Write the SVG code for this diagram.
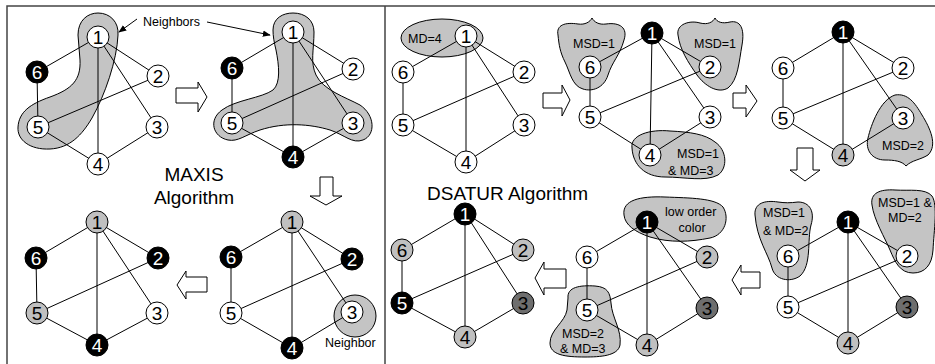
<svg xmlns="http://www.w3.org/2000/svg" width="935" height="364" viewBox="0 0 935 364">
  <style>
    .frame { fill: none; stroke: #444; stroke-width: 1.5; }
    .region { fill: #c4c4c4; stroke: #000; stroke-width: 1; }
    .edge { stroke: #000; stroke-width: 1; }
    .step { fill: #fff; stroke: #000; stroke-width: 1; stroke-linejoin: miter; }
    .node circle { stroke: #000; stroke-width: 1; }
    .node text { font-family: "Liberation Sans", Arial, sans-serif; font-size: 19px; text-anchor: middle; }
    .w circle { fill: #fff; }
    .g circle { fill: #c0c0c0; }
    .d circle { fill: #6e6e6e; }
    .b circle { fill: #000; }
    .b text { fill: #fff; }
    .note { font-family: "Liberation Sans", Arial, sans-serif; font-size: 12.5px; fill: #000; }
    .title { font-family: "Liberation Sans", Arial, sans-serif; font-size: 19px; fill: #000; }
    .ptr { stroke: #000; stroke-width: 1; fill: none; }
  </style>
  <defs>
    <marker id="head" viewBox="0 0 10 10" refX="9" refY="5" markerWidth="8" markerHeight="8" orient="auto" markerUnits="userSpaceOnUse">
      <path d="M0 1 L10 5 L0 9 Z" fill="#000"/>
    </marker>
  </defs>

  <!-- panel frame -->
  <path class="frame" d="M7 364 V6 H935 M385 6 V364"/>

  <!-- highlighted regions -->
  <g id="regions">
    <path class="region" d="M78 35 C78 20 88 13 98 13 C110 13 119 22 118 35 C117 60 105 95 92 118 C82 135 70 148 50 149 C30 150 17 140 18 127 C19 112 30 104 50 97 C72 89 81 80 80 60 Z"/>
    <path class="region" d="M273 30 C273 18 283 13 293 13 C305 13 314 20 314 32 C314 50 310 62 316 75 C323 90 345 97 360 105 C375 115 376 135 363 140 C352 144 345 135 330 130 C310 124 285 122 260 130 C245 135 238 142 228 140 C213 137 208 120 222 110 C235 100 262 98 273 90 C281 83 279 65 276 50 C274 42 273 36 273 30 Z"/>
    <circle class="region" cx="355" cy="316" r="21"/>
    <ellipse class="region" cx="442" cy="38" rx="41" ry="19"/>
    <path class="region" d="M558 35 C556 25 565 22 578 24 C585 25 590 22 592 18 C594 22 599 25 606 24 C620 22 628 28 624 40 C620 55 612 62 608 75 C604 88 592 92 583 89 C572 86 570 72 565 62 C560 52 559 45 558 35 Z"/>
    <path class="region" d="M678 35 C676 24 690 20 700 23 C708 25 713 22 715 18 C717 22 722 24 730 22 C740 20 745 28 742 45 C739 62 738 80 728 88 C718 94 705 86 697 75 C688 62 680 50 678 35 Z"/>
    <path class="region" d="M632 148 C630 135 650 129 670 131 C690 132 705 134 715 142 C727 150 728 168 718 175 C705 182 685 177 665 177 C645 177 633 165 632 148 Z"/>
    <path class="region" d="M895 95 C908 93 915 103 922 115 C930 128 938 145 928 155 C920 160 912 160 906 166 C902 161 894 160 885 160 C872 160 865 150 868 138 C871 125 880 100 895 95 Z"/>
    <path class="region" d="M624 215 C622 200 640 196 665 197 C690 198 715 198 723 207 C730 218 725 235 710 238 C690 242 670 243 650 237 C635 232 625 225 624 215 Z"/>
    <path class="region" d="M568 298 C567 287 580 285 595 286 C608 287 610 293 611 303 C612 318 622 330 620 345 C618 356 600 357 585 357 C565 357 550 355 550 343 C550 330 565 322 567 310 Z"/>
    <path class="region" d="M755 215 C754 203 765 200 778 202 C785 203 790 203 798 202 C810 202 815 212 811 225 C807 240 812 265 800 276 C790 283 775 280 772 268 C768 253 757 240 755 215 Z"/>
    <path class="region" d="M872 205 C870 193 880 189 895 190 C910 191 925 188 932 196 C938 205 934 230 933 250 C932 265 925 273 913 273 C900 273 895 262 890 250 C885 238 874 220 872 205 Z"/>
  </g>

  <!-- graph edges: 1-6, 1-2, 1-3, 1-4, 6-5, 2-5, 5-4, 4-3 -->
  <g id="connectors" class="edge">
    <path d="M98 37 L37 72 M98 37 L158 76 M98 37 L157 127 M98 37 L98 164 M37 72 L38 127 M158 76 L38 127 M38 127 L98 164 M98 164 L157 127"/>
    <path d="M293 32 L232 68 M293 32 L353 69 M293 32 L353 123 M293 32 L293 157 M232 68 L232 123 M353 69 L232 123 M232 123 L293 157 M293 157 L353 123"/>
    <path d="M97 222 L36 258 M97 222 L158 258 M97 222 L157 313 M97 222 L97 345 M36 258 L37 313 M158 258 L37 313 M37 313 L97 345 M97 345 L157 313"/>
    <path d="M292 222 L231 257 M292 222 L352 259 M292 222 L352 312 M292 222 L292 348 M231 257 L231 313 M352 259 L231 313 M231 313 L292 348 M292 348 L352 312"/>
    <path d="M466 36 L403 72 M466 36 L524 72 M466 36 L524 125 M466 36 L466 162 M403 72 L403 125 M524 72 L403 125 M403 125 L466 162 M466 162 L524 125"/>
    <path d="M652 33 L590 67 M652 33 L710 67 M652 33 L710 117 M652 33 L650 155 M590 67 L590 117 M710 67 L590 117 M590 117 L650 155 M650 155 L710 117"/>
    <path d="M843 32 L783 68 M843 32 L903 68 M843 32 L903 118 M843 32 L843 155 M783 68 L783 118 M903 68 L783 118 M783 118 L843 155 M843 155 L903 118"/>
    <path d="M465 213 L402 250 M465 213 L523 250 M465 213 L523 303 M465 213 L465 337 M402 250 L402 303 M523 250 L402 303 M402 303 L465 337 M465 337 L523 303"/>
    <path d="M647 222 L587 257 M647 222 L707 257 M647 222 L707 308 M647 222 L647 345 M587 257 L587 310 M707 257 L587 310 M587 310 L647 345 M647 345 L707 308"/>
    <path d="M848 222 L788 256 M848 222 L907 256 M848 222 L907 307 M848 222 L848 343 M788 256 L788 307 M907 256 L788 307 M788 307 L848 343 M848 343 L907 307"/>
    <!-- pointers from the labels -->
    <path class="ptr" d="M137 19 L119 32" marker-end="url(#head)"/>
    <path class="ptr" d="M207 22 L270 35" marker-end="url(#head)"/>
  </g>

  <!-- step arrows between stages -->
  <g id="steps">
    <polygon class="step" points="176,88 198,88 198,82 207,97 198,112 198,103 176,103"/>
    <polygon class="step" points="320,177 333,177 333,196 342,196 326,205 310,196 320,196"/>
    <polygon class="step" points="207,277 186,277 186,271 177,285 186,299 186,292 207,292"/>
    <polygon class="step" points="543,93 562,93 562,85 570,100 562,116 562,108 543,108"/>
    <polygon class="step" points="733,93 746,93 746,85 757,101 746,117 746,108 733,108"/>
    <polygon class="step" points="797,148 813,148 813,170 820,170 805,181 790,170 797,170"/>
    <polygon class="step" points="760,272 741,272 741,265 732,280 741,295 741,288 760,288"/>
    <polygon class="step" points="566,269 544,269 544,262 535,278 544,295 544,288 566,288"/>
  </g>

  <!-- MAXIS stage 1 -->
  <g id="m1-n1" class="node w"><circle cx="98" cy="37" r="11"/><text x="98" y="44">1</text></g>
  <g id="m1-n2" class="node w"><circle cx="158" cy="76" r="11"/><text x="158" y="83">2</text></g>
  <g id="m1-n3" class="node w"><circle cx="157" cy="127" r="11"/><text x="157" y="134">3</text></g>
  <g id="m1-n4" class="node w"><circle cx="98" cy="164" r="11"/><text x="98" y="171">4</text></g>
  <g id="m1-n5" class="node w"><circle cx="38" cy="127" r="11"/><text x="38" y="134">5</text></g>
  <g id="m1-n6" class="node b"><circle cx="37" cy="72" r="11"/><text x="37" y="79">6</text></g>

  <!-- MAXIS stage 2 -->
  <g id="m2-n1" class="node w"><circle cx="293" cy="32" r="11"/><text x="293" y="39">1</text></g>
  <g id="m2-n2" class="node w"><circle cx="353" cy="69" r="11"/><text x="353" y="76">2</text></g>
  <g id="m2-n3" class="node w"><circle cx="353" cy="123" r="11"/><text x="353" y="130">3</text></g>
  <g id="m2-n4" class="node b"><circle cx="293" cy="157" r="11"/><text x="293" y="164">4</text></g>
  <g id="m2-n5" class="node w"><circle cx="232" cy="123" r="11"/><text x="232" y="130">5</text></g>
  <g id="m2-n6" class="node b"><circle cx="232" cy="68" r="11"/><text x="232" y="75">6</text></g>

  <!-- MAXIS stage 3 -->
  <g id="m3-n1" class="node g"><circle cx="292" cy="222" r="11"/><text x="292" y="229">1</text></g>
  <g id="m3-n2" class="node b"><circle cx="352" cy="259" r="11"/><text x="352" y="266">2</text></g>
  <g id="m3-n3" class="node w"><circle cx="352" cy="312" r="11"/><text x="352" y="319">3</text></g>
  <g id="m3-n4" class="node b"><circle cx="292" cy="348" r="11"/><text x="292" y="355">4</text></g>
  <g id="m3-n5" class="node w"><circle cx="231" cy="313" r="11"/><text x="231" y="320">5</text></g>
  <g id="m3-n6" class="node b"><circle cx="231" cy="257" r="11"/><text x="231" y="264">6</text></g>

  <!-- MAXIS stage 4 -->
  <g id="m4-n1" class="node g"><circle cx="97" cy="222" r="11"/><text x="97" y="229">1</text></g>
  <g id="m4-n2" class="node b"><circle cx="158" cy="258" r="11"/><text x="158" y="265">2</text></g>
  <g id="m4-n3" class="node w"><circle cx="157" cy="313" r="11"/><text x="157" y="320">3</text></g>
  <g id="m4-n4" class="node b"><circle cx="97" cy="345" r="11"/><text x="97" y="352">4</text></g>
  <g id="m4-n5" class="node g"><circle cx="37" cy="313" r="11"/><text x="37" y="320">5</text></g>
  <g id="m4-n6" class="node b"><circle cx="36" cy="258" r="11"/><text x="36" y="265">6</text></g>

  <!-- DSATUR stage 1 -->
  <g id="d1-n1" class="node w"><circle cx="466" cy="36" r="11"/><text x="466" y="43">1</text></g>
  <g id="d1-n2" class="node w"><circle cx="524" cy="72" r="11"/><text x="524" y="79">2</text></g>
  <g id="d1-n3" class="node w"><circle cx="524" cy="125" r="11"/><text x="524" y="132">3</text></g>
  <g id="d1-n4" class="node w"><circle cx="466" cy="162" r="11"/><text x="466" y="169">4</text></g>
  <g id="d1-n5" class="node w"><circle cx="403" cy="125" r="11"/><text x="403" y="132">5</text></g>
  <g id="d1-n6" class="node w"><circle cx="403" cy="72" r="11"/><text x="403" y="79">6</text></g>

  <!-- DSATUR stage 2 -->
  <g id="d2-n1" class="node b"><circle cx="652" cy="33" r="11"/><text x="652" y="40">1</text></g>
  <g id="d2-n2" class="node w"><circle cx="710" cy="67" r="11"/><text x="710" y="74">2</text></g>
  <g id="d2-n3" class="node w"><circle cx="710" cy="117" r="11"/><text x="710" y="124">3</text></g>
  <g id="d2-n4" class="node w"><circle cx="650" cy="155" r="11"/><text x="650" y="162">4</text></g>
  <g id="d2-n5" class="node w"><circle cx="590" cy="117" r="11"/><text x="590" y="124">5</text></g>
  <g id="d2-n6" class="node w"><circle cx="590" cy="67" r="11"/><text x="590" y="74">6</text></g>

  <!-- DSATUR stage 3 -->
  <g id="d3-n1" class="node b"><circle cx="843" cy="32" r="11"/><text x="843" y="39">1</text></g>
  <g id="d3-n2" class="node w"><circle cx="903" cy="68" r="11"/><text x="903" y="75">2</text></g>
  <g id="d3-n3" class="node w"><circle cx="903" cy="118" r="11"/><text x="903" y="125">3</text></g>
  <g id="d3-n4" class="node g"><circle cx="843" cy="155" r="11"/><text x="843" y="162">4</text></g>
  <g id="d3-n5" class="node w"><circle cx="783" cy="118" r="11"/><text x="783" y="125">5</text></g>
  <g id="d3-n6" class="node w"><circle cx="783" cy="68" r="11"/><text x="783" y="75">6</text></g>

  <!-- DSATUR stage 4 -->
  <g id="d4-n1" class="node b"><circle cx="848" cy="222" r="11"/><text x="848" y="229">1</text></g>
  <g id="d4-n2" class="node w"><circle cx="907" cy="256" r="11"/><text x="907" y="263">2</text></g>
  <g id="d4-n3" class="node d"><circle cx="907" cy="307" r="11"/><text x="907" y="314">3</text></g>
  <g id="d4-n4" class="node g"><circle cx="848" cy="343" r="11"/><text x="848" y="350">4</text></g>
  <g id="d4-n5" class="node w"><circle cx="788" cy="307" r="11"/><text x="788" y="314">5</text></g>
  <g id="d4-n6" class="node w"><circle cx="788" cy="256" r="11"/><text x="788" y="263">6</text></g>

  <!-- DSATUR stage 5 -->
  <g id="d5-n1" class="node b"><circle cx="647" cy="222" r="11"/><text x="647" y="229">1</text></g>
  <g id="d5-n2" class="node g"><circle cx="707" cy="257" r="11"/><text x="707" y="264">2</text></g>
  <g id="d5-n3" class="node d"><circle cx="707" cy="308" r="11"/><text x="707" y="315">3</text></g>
  <g id="d5-n4" class="node g"><circle cx="647" cy="345" r="11"/><text x="647" y="352">4</text></g>
  <g id="d5-n5" class="node w"><circle cx="587" cy="310" r="11"/><text x="587" y="317">5</text></g>
  <g id="d5-n6" class="node w"><circle cx="587" cy="257" r="11"/><text x="587" y="264">6</text></g>

  <!-- DSATUR stage 6 -->
  <g id="d6-n1" class="node b"><circle cx="465" cy="214" r="11"/><text x="465" y="221">1</text></g>
  <g id="d6-n2" class="node g"><circle cx="523" cy="250" r="11"/><text x="523" y="257">2</text></g>
  <g id="d6-n3" class="node d"><circle cx="523" cy="303" r="11"/><text x="523" y="310">3</text></g>
  <g id="d6-n4" class="node g"><circle cx="465" cy="337" r="11"/><text x="465" y="344">4</text></g>
  <g id="d6-n5" class="node b"><circle cx="402" cy="303" r="11"/><text x="402" y="310">5</text></g>
  <g id="d6-n6" class="node g"><circle cx="402" cy="250" r="11"/><text x="402" y="257">6</text></g>

  <!-- annotations -->
  <g id="labels">
    <text class="note" x="143" y="26">Neighbors</text>
    <text class="note" x="325" y="347">Neighbor</text>
    <text class="title" x="194" y="181" text-anchor="middle">MAXIS</text>
    <text class="title" x="194" y="204" text-anchor="middle">Algorithm</text>
    <text class="title" x="427" y="200">DSATUR Algorithm</text>
    <text class="note" x="408" y="43">MD=4</text>
    <text class="note" x="573" y="48">MSD=1</text>
    <text class="note" x="694" y="48">MSD=1</text>
    <text class="note" x="677" y="158">MSD=1</text>
    <text class="note" x="668" y="175">&amp; MD=3</text>
    <text class="note" x="882" y="150">MSD=2</text>
    <text class="note" x="665" y="216">low order</text>
    <text class="note" x="692" y="232" text-anchor="middle">color</text>
    <text class="note" x="562" y="338">MSD=2</text>
    <text class="note" x="560" y="353">&amp; MD=3</text>
    <text class="note" x="763" y="217">MSD=1</text>
    <text class="note" x="763" y="235">&amp; MD=2</text>
    <text class="note" x="878" y="207">MSD=1 &amp;</text>
    <text class="note" x="888" y="222">MD=2</text>
  </g>
</svg>
